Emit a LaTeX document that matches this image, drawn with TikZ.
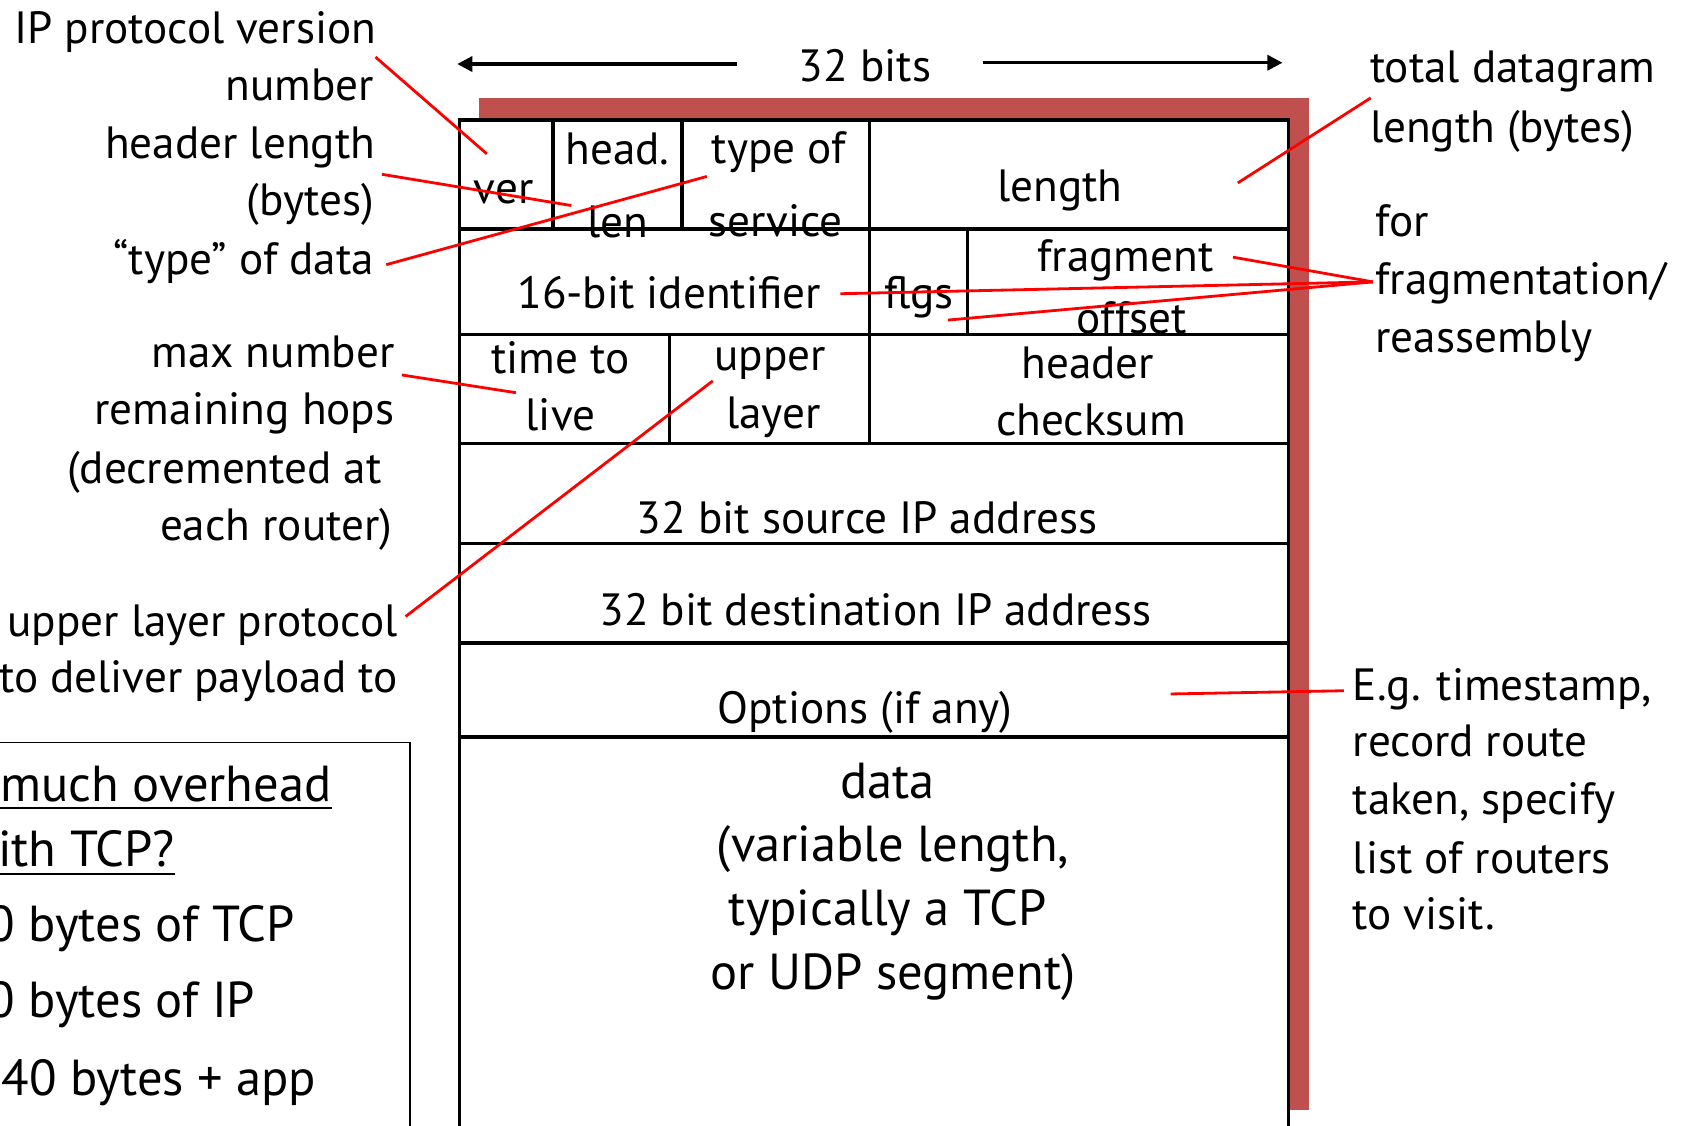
\documentclass[tikz,border=0pt]{standalone}
\usepackage{fontspec}
\setmainfont{PT Sans}
\usetikzlibrary{arrows.meta}
\definecolor{shadowred}{RGB}{192,80,77}
\definecolor{callred}{RGB}{255,0,0}
\begin{document}
\begin{tikzpicture}[x=0.5pt,y=-0.5pt,
  lbl/.style={inner sep=0pt, font=\fontsize{21}{26}\selectfont},
  big/.style={inner sep=0pt, font=\fontsize{23.5}{28}\selectfont},
  fld/.style={inner sep=0pt, font=\fontsize{21}{26}\selectfont, anchor=base},
  datafld/.style={fld, font=\fontsize{23.5}{28}\selectfont},
  frame/.style={line width=1.6pt},
  rule/.style={line width=1.6pt},
  callout/.style={draw=callred, line width=1.3pt},
  dim/.style={line width=1.5pt, -{Triangle[length=7pt,width=7pt]}}]
\useasboundingbox (0,0) rectangle (1568,1046);
\clip (0,0) rectangle (1568,1046);

% shadow behind the header frame
\fill[shadowred] (445,91) rectangle (1217,1032);
% header frame
\draw[frame, fill=white] (427,111.5) rectangle (1197.5,1080);
% row separators
\foreach \yy in {213,311,412,505,597.5,685}
  \draw[rule] (427,\yy) -- (1197.5,\yy);
% column separators
\draw[rule] (514,111.5) -- (514,213);
\draw[rule] (634,111.5) -- (634,213);
\draw[rule] (808,111.5) -- (808,412);
\draw[rule] (899,213) -- (899,311);
\draw[rule] (622.5,311) -- (622.5,412);

% width indicator
\node[fld] (bits) at (804,76) {32 bits};
\coordinate (wL) at (425,59.5);
\coordinate (wLtail) at (685,59.5);
\coordinate (wR) at (1192,58.3);
\coordinate (wRtail) at (914,58.3);
\draw[dim] (wLtail) -- (wL);
\draw[dim] (wRtail) -- (wR);

% field texts
\node[fld] (fVer) at (468,189) {ver};
\node[fld] (fHl1) at (574,153) {head.};
\node[fld] (fHl2) at (574,221) {len};
\node[fld] (fTos1) at (724,152) {type of};
\node[fld] (fTos2) at (721,220) {service};
\node[fld] (fLen) at (985,187) {length};
\node[fld] (fId) at (622,287) {16-bit identifier};
\node[fld] (fFlg) at (854,287) {flgs};
\node[fld] (fOff1) at (1046,252) {fragment};
\node[fld] (fOff2) at (1052,310) {offset};
\node[fld] (fTtl1) at (521,347) {time to};
\node[fld] (fTtl2) at (521,400) {live};
\node[fld] (fPro1) at (716,344) {upper};
\node[fld] (fPro2) at (719,398) {layer};
\node[fld] (fCk1) at (1011,352) {header};
\node[fld] (fCk2) at (1014,405) {checksum};
\node[fld] (fSrc) at (806,496) {32 bit source IP address};
\node[fld] (fDst) at (814,581) {32 bit destination IP address};
\node[fld] (fOpt) at (804,672) {Options (if any)};
\node[datafld] (fData1) at (825,742) {data};
\node[datafld] (fData2) at (830,801) {(variable length,};
\node[datafld] (fData3) at (825,860) {typically a TCP};
\node[datafld] (fData4) at (830,920) {or UDP segment)};

% left annotations
\node[lbl, anchor=base east] (verA) at (350,40) {IP protocol version};
\node[lbl, anchor=base east] (verB) at (348,93) {number};
\node[lbl, anchor=base east] (hlA) at (349,147) {header length};
\node[lbl, anchor=base east] (hlB) at (348,200) {(bytes)};
\node[lbl, anchor=base east] (tosA) at (348,255) {“type” of data};
\node[lbl, anchor=base east] (ttlA) at (367,342) {max number};
\node[lbl, anchor=base east] (ttlB) at (367,395) {remaining hops};
\node[lbl, anchor=base east] (ttlC) at (355,449) {(decremented at};
\node[lbl, anchor=base east] (ttlD) at (365,502) {each router)};
\node[lbl, anchor=base east] (proA) at (370,592) {upper layer protocol};
\node[lbl, anchor=base east] (proB) at (370,644) {to deliver payload to};

% right annotations
\node[lbl, anchor=base west] (lenA) at (1273,77) {total datagram};
\node[lbl, anchor=base west] (lenB) at (1273,132) {length (bytes)};
\node[lbl, anchor=base west] (frA) at (1278,220) {for};
\node[lbl, anchor=base west] (frB) at (1278,274) {fragmentation/};
\node[lbl, anchor=base west] (frC) at (1278,328) {reassembly};
\node[lbl, anchor=base west] (opA) at (1257,651) {E.g. timestamp,};
\node[lbl, anchor=base west] (opB) at (1257,703) {record route};
\node[lbl, anchor=base west] (opC) at (1257,757) {taken, specify};
\node[lbl, anchor=base west] (opD) at (1257,812) {list of routers};
\node[lbl, anchor=base west] (opE) at (1257,864) {to visit.};

% overhead box
\draw[line width=0.8pt] (-10,690) -- (381,690) -- (381,1080);
\node[big, anchor=base west] (ovA) at (0,745) {much overhead};
\node[big, anchor=base west] (ovB) at (-2,805) {ith TCP?};
\draw[line width=1pt] (-10,751) -- (ovA.base east |- 0,751);
\draw[line width=1pt] (-10,812) -- (ovB.base east |- 0,812);
\node[big, anchor=base west] (ovC) at (-12,875) {0 bytes of TCP};
\node[big, anchor=base west] (ovD) at (-12,946) {0 bytes of IP};
\node[big, anchor=base west] (ovE) at (1,1018) {40 bytes + app};

% callout end points
\coordinate (sVer) at (349,53);   \coordinate (eVer) at (452.5,143);
\coordinate (sHl) at (355,162);   \coordinate (eHl) at (531,191);
\coordinate (sTos) at (359,246);  \coordinate (eTos) at (657,164);
\coordinate (sTtl) at (373.5,348.5); \coordinate (eTtl) at (479.5,365);
\coordinate (sPro) at (377,573);  \coordinate (ePro) at (662.5,354);
\coordinate (sLen) at (1274,91);  \coordinate (eLen) at (1150.5,170);
\coordinate (hub) at (1276,262);
\coordinate (eOff) at (1146,239);
\coordinate (eId) at (781,273);
\coordinate (eFlg) at (881,297.5);
\coordinate (sOpt) at (1249,642); \coordinate (eOpt) at (1088,645);

% callouts
\draw[callout] (sVer) -- (eVer);
\draw[callout] (sHl) -- (eHl);
\draw[callout] (sTos) -- (eTos);
\draw[callout] (sTtl) -- (eTtl);
\draw[callout] (sPro) -- (ePro);
\draw[callout] (sLen) -- (eLen);
\draw[callout] (hub) -- (eOff);
\draw[callout] (hub) -- (eId);
\draw[callout] (hub) -- (eFlg);
\draw[callout] (sOpt) -- (eOpt);
\end{tikzpicture}
\end{document}
